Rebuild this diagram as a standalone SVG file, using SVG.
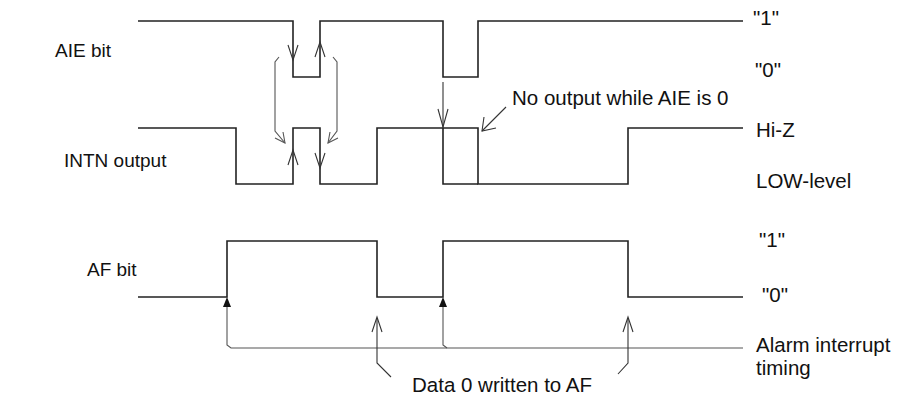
<svg xmlns="http://www.w3.org/2000/svg" width="899" height="398" viewBox="0 0 899 398">
<style>
text{font-family:"Liberation Sans",Arial,sans-serif;font-size:20.5px;fill:#111}
.lbl{font-size:19px}
.sig{fill:none;stroke:#222;stroke-width:1.6;stroke-linejoin:miter}
.ar{fill:none;stroke:#333;stroke-width:1.1}
.ag{fill:none;stroke:#555;stroke-width:1.1}
.tri{fill:#111;stroke:none}
</style>
<rect width="899" height="398" fill="#fff"/>
<g id="labels">
<text class="lbl" x="55" y="57">AIE bit</text>
<text class="lbl" x="64" y="167">INTN output</text>
<text class="lbl" x="87" y="276">AF bit</text>
<text x="753" y="25">"1"</text>
<text x="755" y="77">"0"</text>
<text x="756" y="137">Hi-Z</text>
<text x="756" y="188">LOW-level</text>
<text x="759" y="247">"1"</text>
<text x="762" y="302">"0"</text>
<text x="756" y="352">Alarm interrupt</text>
<text x="756" y="375">timing</text>
<text x="512" y="105">No output while AIE is 0</text>
<text x="412" y="392">Data 0 written to AF</text>
</g>
<g id="aie-bit">
<path class="sig" d="M138,21 H293 V77 H320 V21 H443 V77 H478 V21 H743"/>
</g>
<g id="intn-output">
<path class="sig" d="M138,128 H236 V184 H293 V128 H320 V184 H377 V128 H478 V184 H628 V128 H743"/>
<path class="sig" d="M443,128 V184 H478"/>
</g>
<g id="af-bit">
<path class="sig" d="M138,297 H227 V241 H377 V297 H443 V241 H628 V297 H743"/>
</g>
<g id="connectors">
<path class="ar" d="M288,45 L293,60 L298,45"/>
<path class="ar" d="M315,57 L320,42 L325,57"/>
<path class="ar" d="M288,165 L293,150 L298,165"/>
<path class="ar" d="M315,153 L320,168 L325,153"/>
<path class="ag" d="M279,57 L275,62 V131 L285,143"/>
<path class="ag" d="M275,138 L285,143 L283,132"/>
<path class="ag" d="M333,57 L337,62 V131 L328,143"/>
<path class="ag" d="M330,132 L328,143 L338,138"/>
<path class="ar" d="M443,82 V128"/>
<path class="ar" d="M438,109 L443,127 L448,109"/>
<path class="ar" d="M506,107 L482,131"/>
<path class="ar" d="M484,117 L482,131 L496,128"/>
<path class="ag" d="M227,307 V345 L231,348 H743"/>
<path class="ag" d="M443,307 V345 L447,348"/>
<path class="tri" d="M227,297 L223,307 L231,307 Z"/>
<path class="tri" d="M443,297 L439,307 L447,307 Z"/>
<path class="ar" d="M391,377 L377,363 V318"/>
<path class="ar" d="M372,332 L377,317 L382,332"/>
<path class="ar" d="M618,374 L628,363 V318"/>
<path class="ar" d="M623,332 L628,317 L633,332"/>
</g>
</svg>
